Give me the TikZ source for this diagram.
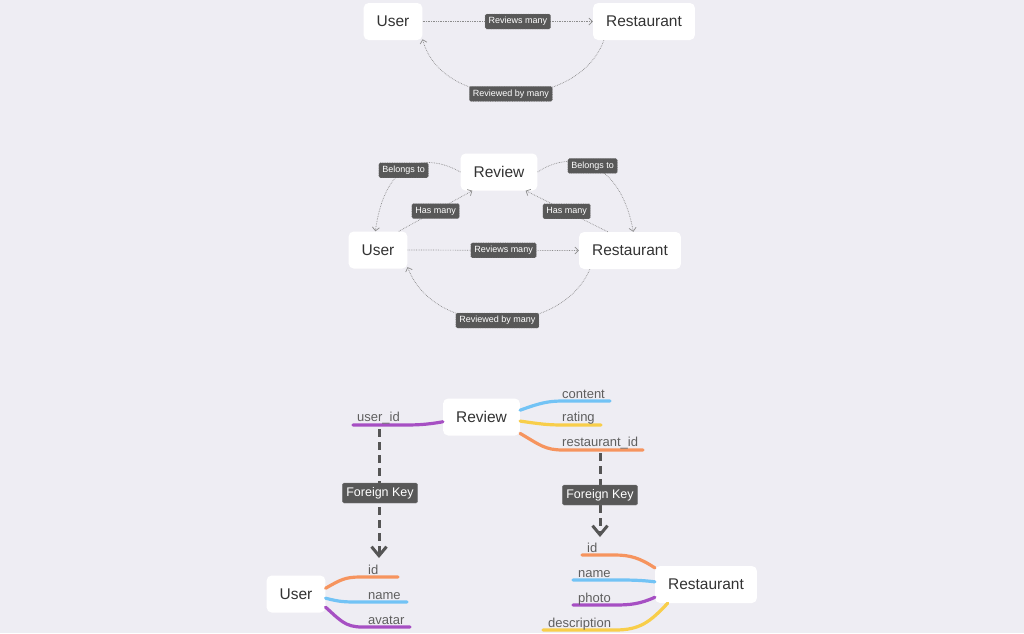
\documentclass[tikz,border=0pt]{standalone}
\usepackage{fontspec}
\setmainfont{Liberation Sans}
\usetikzlibrary{arrows.meta,calc}
\definecolor{bg}{RGB}{238,237,243}
\definecolor{ink}{RGB}{51,51,51}
\definecolor{tagfill}{RGB}{88,88,88}
\definecolor{tagedge}{RGB}{120,120,120}
\definecolor{relgray}{RGB}{140,140,140}
\definecolor{fkgray}{RGB}{85,85,85}
\definecolor{attrgray}{RGB}{95,95,95}
\definecolor{fblue}{RGB}{114,195,245}
\definecolor{fyellow}{RGB}{248,206,74}
\definecolor{forange}{RGB}{246,148,94}
\definecolor{fpurple}{RGB}{166,79,195}
\begin{document}
\begin{tikzpicture}[x=1pt,y=-1pt,
  entity/.style={fill=white, rounded corners=5pt, text=ink,
    font=\fontsize{15.5}{18}\selectfont, minimum height=37pt,
    inner xsep=13pt, inner ysep=0pt},
  tag/.style={fill=tagfill, draw=tagedge, line width=0.4pt, rounded corners=1.5pt,
    text=white, font=\fontsize{9}{10}\selectfont, inner xsep=3.5pt,
    inner ysep=0pt, minimum height=15pt},
  fktag/.style={tag, font=\fontsize{12.5}{14}\selectfont, minimum height=20pt,
    inner xsep=4pt},
  rel/.style={draw=relgray, densely dotted, line width=0.7pt,
    -{Straight Barb[length=3.5pt,width=7pt]}},
  fk/.style={draw=fkgray, line width=3pt, dash pattern=on 8pt off 5pt,
    -{Straight Barb[length=9pt,width=15pt]}},
  field/.style={line width=3.2pt, line cap=round},
  attr/.style={text=attrgray, font=\fontsize{13}{15}\selectfont,
    inner sep=0pt, anchor=base west}]

\fill[bg] (0,0) rectangle (1024,633);
\useasboundingbox (0,0) rectangle (1024,633);

% ---------- simple many-to-many ----------
\node[entity] (u1) at (393,21.5) {User};
\node[entity] (r1) at (644,21.5) {Restaurant};
\draw[rel] (u1.east) -- node[tag, pos=0.56] (t1a) {Reviews many} (r1.west);
\draw[rel] (r1.205) .. controls (578,112) and (442,112) ..
  node[tag, pos=0.5] (t1b) {Reviewed by many} (u1.-31);

% ---------- through the Review join ----------
\node[entity] (rv2) at (499,172) {Review};
\node[entity] (u2) at (378,250) {User};
\node[entity] (r2) at (630,250.5) {Restaurant};
\draw[rel] (u2.east) -- node[tag, pos=0.56] (t2a) {Reviews many} (r2.west);
\draw[rel] (r2.205) .. controls (560,338) and (434,338) ..
  node[tag, pos=0.5] (t2b) {Reviewed by many} (u2.-30);
\draw[rel] (rv2.west) .. controls (425,152) and (385,160) ..
  node[tag, pos=0.55] (t2c) {Belongs to} (u2.98);
\draw[rel] (rv2.east) .. controls (570,150) and (620,158) ..
  node[tag, pos=0.5] (t2d) {Belongs to} (r2.80);
\draw[rel] (u2.42) -- node[tag, pos=0.5] (t2e) {Has many} (rv2.-145);
\draw[rel] (r2.140) -- node[tag, pos=0.5] (t2f) {Has many} (rv2.-35);

% ---------- tables and foreign keys ----------
\node[entity] (rv3) at (481.5,417) {Review};
\node[entity] (u3) at (296,594) {User};
\node[entity] (r3) at (706,584.5) {Restaurant};

% Review columns
\coordinate (rvContent) at (610,401);
\coordinate (rvRating) at (601,425);
\coordinate (rvRest) at (643,450);
\coordinate (rvUser) at (353,425);
\draw[field, fblue] (rv3.10) .. controls (540,403) and (548,401) .. (563,401) -- (rvContent);
\draw[field, fyellow] (rv3.-6) .. controls (540,424) and (548,425) .. (563,425) -- (rvRating);
\draw[field, forange] (rv3.-23) .. controls (540,445) and (545,450) .. (563,450) -- (rvRest);
\draw[field, fpurple] (rv3.187) .. controls (425,425) and (415,425) .. (400,425) -- (rvUser);
\node[attr] (aContent) at (562,398) {content};
\node[attr] (aRating) at (562,421.5) {rating};
\node[attr] (aRest) at (562,446.5) {restaurant\_id};
\node[attr] (aUser) at (357,421.5) {user\_id};

% User columns
\coordinate (uId) at (398,577);
\coordinate (uName) at (407,602);
\coordinate (uAvatar) at (410,627);
\draw[field, forange] (u3.11) .. controls (340,580) and (345,577) .. (360,577) -- (uId);
\draw[field, fblue] (u3.-8) .. controls (340,602) and (345,602) .. (360,602) -- (uName);
\draw[field, fpurple] (u3.-24) .. controls (340,620) and (345,627) .. (362,627) -- (uAvatar);
\node[attr] (auId) at (368,574) {id};
\node[attr] (auName) at (368,599) {name};
\node[attr] (auAvatar) at (368,624) {avatar};

% Restaurant columns
\coordinate (rId) at (582,555);
\coordinate (rName) at (573,580);
\coordinate (rPhoto) at (573,605);
\coordinate (rDesc) at (543,630);
\draw[field, forange] (r3.162) .. controls (640,558) and (630,555) .. (615,555) -- (rId);
\draw[field, fblue] (r3.177) .. controls (640,580) and (630,580) .. (615,580) -- (rName);
\draw[field, fpurple] (r3.194) .. controls (640,604) and (630,605) .. (615,605) -- (rPhoto);
\draw[field, fyellow] (r3.206) .. controls (650,622) and (640,630) .. (615,630) -- (rDesc);
\node[attr] (arId) at (587,552) {id};
\node[attr] (arName) at (578,577) {name};
\node[attr] (arPhoto) at (578,602) {photo};
\node[attr] (arDesc) at (548,627) {description};

% foreign keys
\coordinate (fkUserFrom) at (379,429);
\coordinate (fkUserTo) at (379,558);
\coordinate (fkRestFrom) at (600,453);
\coordinate (fkRestTo) at (600,537);
\draw[fk] (fkUserFrom) -- (fkUserTo);
\draw[fk] (fkRestFrom) -- (fkRestTo);
\node[fktag] (fk1) at (380,493) {Foreign Key};
\node[fktag] (fk2) at (600,495) {Foreign Key};
\end{tikzpicture}
\end{document}
